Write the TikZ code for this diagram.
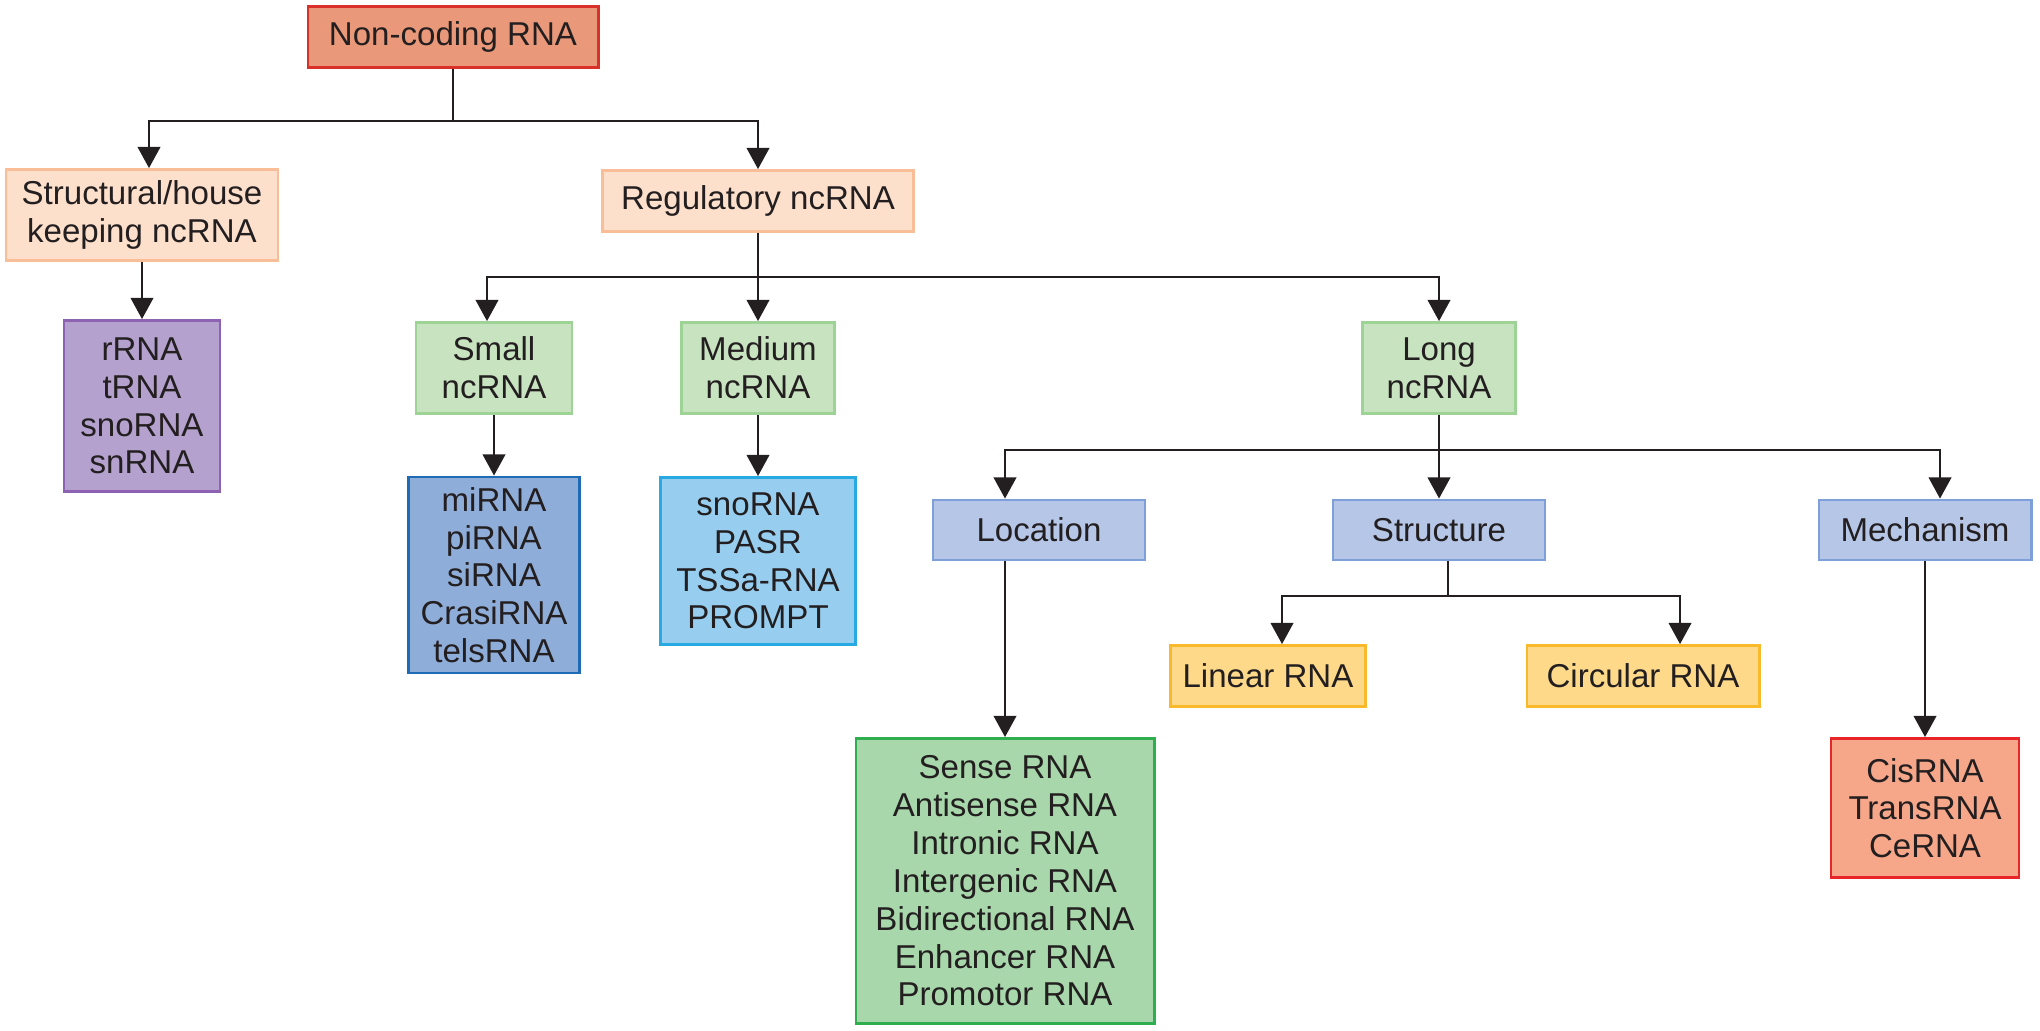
\documentclass[tikz,border=0pt]{standalone}
\usepackage{fontspec}
\setmainfont{Liberation Sans}
\usetikzlibrary{arrows.meta}
\definecolor{txt}{HTML}{231F20}
\definecolor{ncfill}{HTML}{E9997A}\definecolor{ncline}{HTML}{D9302A}
\definecolor{pchfill}{HTML}{FDE0CC}\definecolor{pchline}{HTML}{F9BE98}
\definecolor{purfill}{HTML}{B4A1CE}\definecolor{purline}{HTML}{8E62B3}
\definecolor{grnfill}{HTML}{C8E3C0}\definecolor{grnline}{HTML}{9DD496}
\definecolor{bluefill}{HTML}{8FADD9}\definecolor{blueline}{HTML}{1F6AB5}
\definecolor{skyfill}{HTML}{97CEEF}\definecolor{skyline}{HTML}{27AAE1}
\definecolor{lavfill}{HTML}{B5C6E7}\definecolor{lavline}{HTML}{7F9FD8}
\definecolor{yelfill}{HTML}{FED98A}\definecolor{yelline}{HTML}{F8B92A}
\definecolor{dgrfill}{HTML}{A7D7AA}\definecolor{dgrline}{HTML}{2EAE4E}
\definecolor{redfill}{HTML}{F6A78A}\definecolor{redline}{HTML}{E8262A}
\begin{document}
\begin{tikzpicture}[x=0.01cm,y=-0.01cm,
    box/.style={draw,line width=0.8pt,align=center,inner sep=0pt,text=txt,
      font=\fontsize{9.4}{10.75}\selectfont},
    arr/.style={line width=0.6pt,color=txt,-{Triangle[length=6pt,width=6.4pt]}}]
  \useasboundingbox (0,0) rectangle (2040,1030);
  % top levels
  \node[box,fill=ncfill,draw=ncline,minimum width=2.90cm,minimum height=0.61cm] (nc) at (453,37) {Non-coding RNA};
  \node[box,fill=pchfill,draw=pchline,minimum width=2.72cm,minimum height=0.91cm] (st) at (142,215) {Structural/house\\keeping ncRNA};
  \node[box,fill=pchfill,draw=pchline,minimum width=3.11cm,minimum height=0.61cm] (rg) at (758,201) {Regulatory ncRNA};
  \node[box,fill=purfill,draw=purline,minimum width=1.56cm,minimum height=1.71cm] (hk) at (142,406) {rRNA\\tRNA\\snoRNA\\snRNA};
  \node[box,fill=grnfill,draw=grnline,minimum width=1.56cm,minimum height=0.91cm] (sm) at (494,368) {Small\\ncRNA};
  \node[box,fill=grnfill,draw=grnline,minimum width=1.53cm,minimum height=0.91cm] (md) at (758,368) {Medium\\ncRNA};
  \node[box,fill=grnfill,draw=grnline,minimum width=1.53cm,minimum height=0.91cm] (lg) at (1439,368) {Long\\ncRNA};
  \node[box,fill=bluefill,draw=blueline,minimum width=1.71cm,minimum height=1.96cm] (smx) at (494,575) {miRNA\\piRNA\\siRNA\\CrasiRNA\\telsRNA};
  \node[box,fill=skyfill,draw=skyline,minimum width=1.95cm,minimum height=1.67cm] (mdx) at (758,561) {snoRNA\\PASR\\TSSa-RNA\\PROMPT};
  % long ncRNA classes
  \node[box,fill=lavfill,draw=lavline,minimum width=2.12cm,minimum height=0.60cm] (loc) at (1039,530) {Location};
  \node[box,fill=lavfill,draw=lavline,minimum width=2.12cm,minimum height=0.60cm] (str) at (1439,530) {Structure};
  \node[box,fill=lavfill,draw=lavline,minimum width=2.12cm,minimum height=0.60cm] (mech) at (1925,530) {Mechanism};
  \node[box,fill=yelfill,draw=yelline,minimum width=1.95cm,minimum height=0.61cm] (lin) at (1268,676) {Linear RNA};
  \node[box,fill=yelfill,draw=yelline,minimum width=2.32cm,minimum height=0.61cm] (circ) at (1643,676) {Circular RNA};
  \node[box,fill=dgrfill,draw=dgrline,minimum width=2.98cm,minimum height=2.85cm] (locx) at (1005,881) {Sense RNA\\Antisense RNA\\Intronic RNA\\Intergenic RNA\\Bidirectional RNA\\Enhancer RNA\\Promotor RNA};
  \node[box,fill=redfill,draw=redline,minimum width=1.88cm,minimum height=1.39cm] (mechx) at (1925,808) {CisRNA\\TransRNA\\CeRNA};
  % connectors
  \draw (nc.south) -- ++(0,52) -| ([xshift=0.07cm]st.north)[arr];
  \draw (nc.south) -- ++(0,52) -| (rg.north)[arr];
  \draw (st.south) -- (hk.north)[arr];
  \draw (rg.south) -- ++(0,44) -| ([xshift=-0.07cm]sm.north)[arr];
  \draw (rg.south) -- (md.north)[arr];
  \draw (rg.south) -- ++(0,44) -| (lg.north)[arr];
  \draw (sm.south) -- (smx.north)[arr];
  \draw (md.south) -- (mdx.north)[arr];
  \draw (lg.south) -- ++(0,35) -| (loc.north -| locx.north)[arr];
  \draw (lg.south) -- (str.north)[arr];
  \draw (lg.south) -- ++(0,35) -| ([xshift=0.15cm]mech.north)[arr];
  \draw (loc.south -| locx.north) -- (locx.north)[arr];
  \draw ([xshift=0.09cm]str.south) -- ++(0,35) -| ([xshift=0.14cm]lin.north)[arr];
  \draw ([xshift=0.09cm]str.south) -- ++(0,35) -| ([xshift=0.37cm]circ.north)[arr];
  \draw (mech.south) -- (mechx.north)[arr];
\end{tikzpicture}
\end{document}
